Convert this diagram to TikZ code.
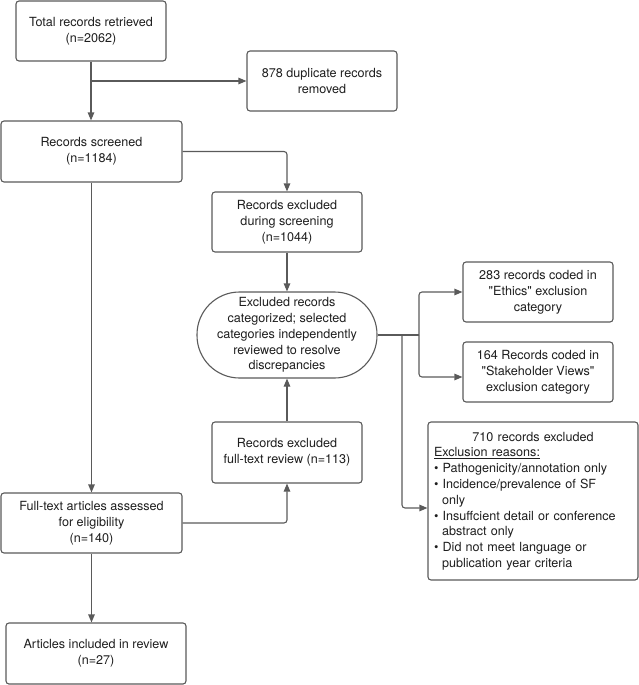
\documentclass[tikz,border=0pt]{standalone}
\usepackage{fontspec}
\setmainfont{TeX Gyre Heros}[Ligatures=TeXOff]
\usetikzlibrary{arrows.meta}
\definecolor{lncol}{HTML}{5A5A5A}
\definecolor{txcol}{HTML}{1E1E1E}
\begin{document}
\begin{tikzpicture}[x=1pt,y=-1pt,
 box/.style={draw=lncol, line width=1.1pt, rounded corners=3pt, fill=white, align=center, inner sep=0pt,
   minimum width=150pt, minimum height=60pt, text=txcol, font=\fontsize{12.6}{15.8}\selectfont},
 conn/.style={draw=lncol, line width=1.1pt, rounded corners=3pt},
 arr/.style={conn, -{Triangle[length=8pt,width=6.5pt]}}]
\useasboundingbox (0,0) rectangle (639,685);

\node[box] (b1) at (91,31) {Total records retrieved\\(n=2062)};
\node[box] (b2) at (322,81) {878 duplicate records\\removed};
\node[box, minimum width=181pt, minimum height=61pt] (b3) at (91.5,151.5) {Records screened\\(n=1184)};
\node[box] (b4) at (287,222) {Records excluded\\during screening\\(n=1044)};
\node[box, minimum width=180pt, minimum height=86pt, rounded corners=42.5pt] (b5) at (287,335)
  {Excluded records\\categorized; selected\\categories independently\\reviewed to resolve\\discrepancies};
\node[box] (b6) at (538,292) {283 records coded in\\"Ethics" exclusion\\category};
\node[box] (b7) at (538,372) {164 Records coded in\\"Stakeholder Views"\\exclusion category};
\node[box, minimum width=210pt, minimum height=158pt, align=left, text width=198pt] (b8) at (533,501)
  {{\centering 710 records excluded\par}
   \underline{Exclusion reasons:}\\
   \textbullet\ Pathogenicity/annotation only\\
   \textbullet\ Incidence/prevalence of SF\\
   \hspace*{8pt}only\\
   \textbullet\ Insuffcient detail or conference\\
   \hspace*{8pt}abstract only\\
   \textbullet\ Did not meet language or\\
   \hspace*{8pt}publication year criteria};
\node[box, minimum height=61pt] (b9) at (287,452.5) {Records excluded\\full-text review (n=113)};
\node[box, minimum width=181pt] (b10) at (91.5,523) {Full-text articles assessed\\for eligibility\\(n=140)};
\node[box, minimum width=180pt, minimum height=61pt] (b11) at (96,653.5) {Articles included in review\\(n=27)};

\coordinate (j1) at (91,81);
\coordinate (j2) at (419,335);
\coordinate (j3) at (402,335);

\draw[arr] (b1.south) -- (b1.south |- b3.north);
\draw[arr] (j1) -- (b2.west);
\draw[arr] (b3.east) -| (b4.north);
\draw[arr] (b4.south) -- (b5.north);
\draw[conn] (b5.east) -- (j2);
\draw[arr] (j2) |- (b6.west);
\draw[arr] (j2) |- ([yshift=-5pt]b7.west);
\draw[arr] (j3) |- ([yshift=-7pt]b8.west);
\draw[arr] (b9.north) -- (b5.south);
\draw[arr] (b10.east) -| (b9.south);
\draw[arr] (b3.south) -- (b3.south |- b10.north);
\draw[arr] (b10.south) -- (b10.south |- b11.north);
\end{tikzpicture}
\end{document}
